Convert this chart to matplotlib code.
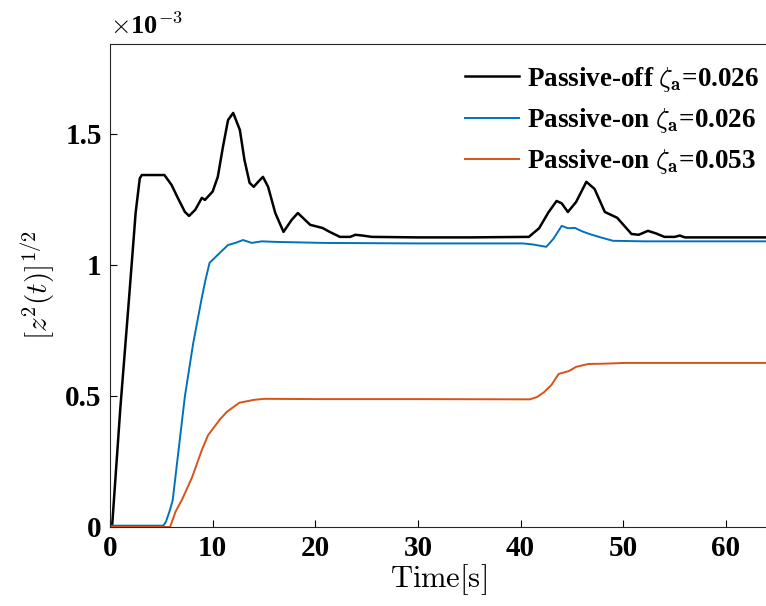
import matplotlib
matplotlib.use("Agg")
import matplotlib.pyplot as plt
import numpy as np

plt.rcParams['mathtext.fontset'] = 'cm'
plt.rcParams['font.family'] = 'Liberation Serif'

# values (units of 1e-3)
t_off = [0, 0.2, 1.0, 1.85, 2.5, 2.9, 3.1, 4.0, 5.3, 6.0, 6.6, 7.3, 7.7, 8.3, 8.95,
         9.25, 10.0, 10.5, 11.0, 11.5, 12.0, 12.65, 13.1, 13.6, 14.0, 14.5, 14.9, 15.4, 16.1,
         16.9, 17.7, 18.3, 19.5, 20.7, 21.4, 22.4, 23.4, 23.9, 24.6, 25.5, 30, 35, 40.8,
         41.8, 42.7, 43.5, 44.0, 44.6, 45.4, 46.4, 47.2, 48.2, 49.4, 50.8, 51.5, 52.4, 53.2,
         54.0, 55.0, 55.5, 56.0, 60, 64]
z_off = [0, 0, 0.45, 0.87, 1.2, 1.33, 1.343, 1.343, 1.343, 1.305, 1.256, 1.202,
         1.187, 1.21, 1.256, 1.248, 1.28, 1.336, 1.45, 1.553, 1.58, 1.515, 1.40, 1.313, 1.298,
         1.32, 1.336, 1.298, 1.198, 1.126, 1.172, 1.198, 1.153, 1.141, 1.126, 1.107, 1.107,
         1.115, 1.112, 1.107, 1.105, 1.105, 1.107, 1.14, 1.20, 1.244, 1.235, 1.202, 1.24,
         1.317, 1.29, 1.202, 1.18, 1.118, 1.115, 1.13, 1.12, 1.107, 1.107, 1.112, 1.105,
         1.105, 1.105]

t_on1 = [0, 5.2, 5.45, 5.8, 6.1, 6.7, 7.3, 8.1, 8.9, 9.3, 9.7, 10.2, 10.8, 11.5, 12.3, 12.95,
         13.8, 14.8, 16, 20.7, 25, 30, 35, 40.2, 41.2, 42.5, 43.2, 44.0, 44.6, 45.3, 46.0,
         46.7, 47.8, 49.0, 52, 64]
z_on1 = [0.005, 0.005, 0.02, 0.06, 0.10, 0.30, 0.50, 0.70, 0.866, 0.943, 1.008, 1.027, 1.05,
         1.076, 1.085, 1.095, 1.084, 1.09, 1.088, 1.084, 1.083, 1.082, 1.082, 1.082, 1.078,
         1.069, 1.10, 1.149, 1.14, 1.141, 1.128, 1.118, 1.105, 1.092, 1.09, 1.09]

t_on2 = [0, 5.85, 6.4, 7.0, 8.0, 8.95, 9.55, 10.7, 11.4, 12.6, 14.0, 15.0, 20, 30, 40.9, 41.6,
         42.3, 43.0, 43.7, 44.7, 45.4, 46.6, 48, 50.2, 64]
z_on2 = [0, 0, 0.06, 0.103, 0.19, 0.294, 0.35, 0.41, 0.44, 0.474, 0.485, 0.489, 0.488,
         0.488, 0.487, 0.496, 0.515, 0.542, 0.584, 0.595, 0.611, 0.622, 0.623, 0.626, 0.626]

labels = [r'Passive-off $\zeta_\mathbf{a}$=0.026',
          r'Passive-on $\zeta_\mathbf{a}$=0.026',
          r'Passive-on $\zeta_\mathbf{a}$=0.053']
colors = ['black', '#0072BD', '#D95319']

fig = plt.figure(figsize=(7.66, 6.06), dpi=100)
ax = fig.add_axes([0.1436, 0.1304, 0.8564, 0.797])

ax.plot(t_off, z_off, color=colors[0], lw=1.8, label=labels[0])
ax.plot(t_on1, z_on1, color=colors[1], lw=1.4, label=labels[1])
ax.plot(t_on2, z_on2, color=colors[2], lw=1.4, label=labels[2])

ax.set_xlim(0, 63.9)
ax.set_ylim(0, 1.843)
ax.set_xticks([0, 10, 20, 30, 40, 50, 60])
ax.set_yticks([0, 0.5, 1, 1.5])
ax.set_yticklabels(['0', '0.5', '1', '1.5'])
ax.tick_params(direction='in', length=5, width=0.8, labelsize=21, pad=6)
for lab in ax.get_xticklabels() + ax.get_yticklabels():
    lab.set_fontweight('bold')
ax.spines['right'].set_visible(False)
for s in ['left', 'bottom', 'top']:
    ax.spines[s].set_color('#262626')
    ax.spines[s].set_linewidth(0.8)

ax.set_xlabel(r'$\mathrm{Time[s]}$', fontsize=22, labelpad=0)
ax.set_ylabel(r'$[z^2(t)]^{1/2}$', fontsize=21, labelpad=6)
ax.text(0, 1.01, r'$\times$10$^{\mathbf{-3}}$', transform=ax.transAxes, fontsize=19,
        fontweight='bold', ha='left', va='bottom')

leg = ax.legend(loc='upper right', bbox_to_anchor=(1.006, 0.979), frameon=False,
                handlelength=2.0, handletextpad=0.3, labelspacing=0.45, borderaxespad=0,
                prop={'weight': 'bold', 'size': 19.5})

fig.savefig('out.png', dpi=100)
